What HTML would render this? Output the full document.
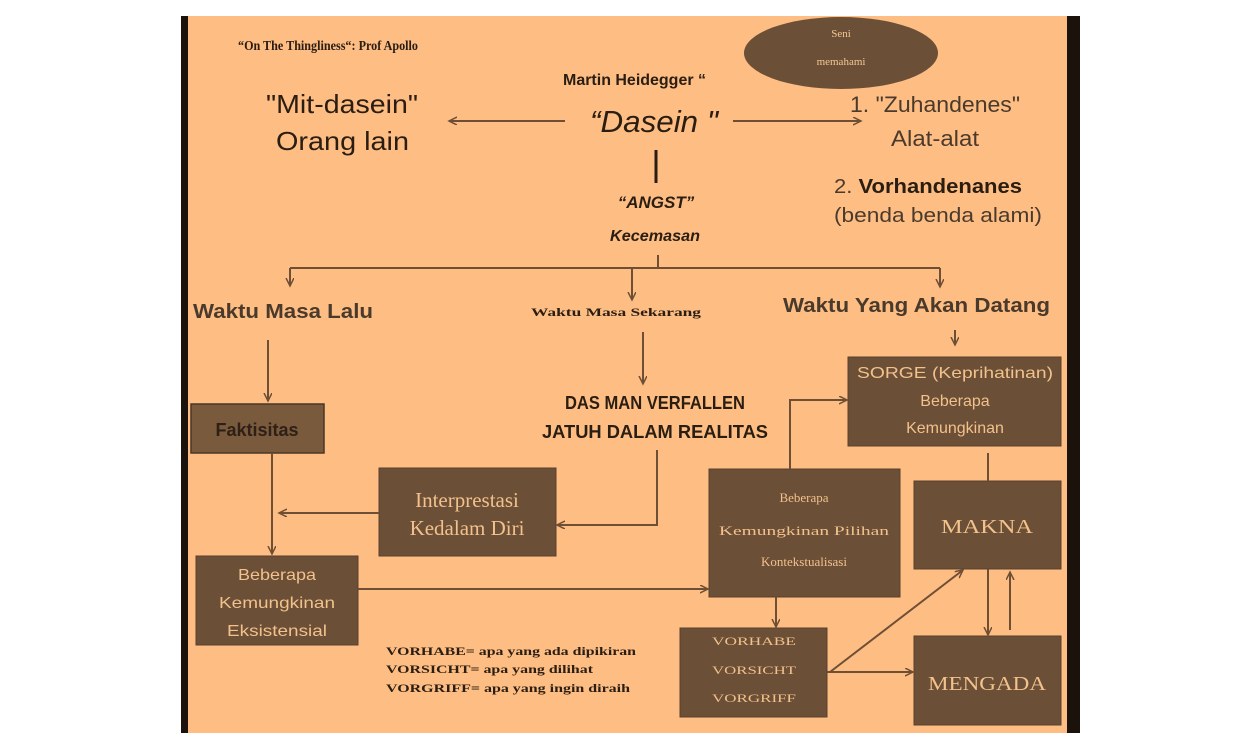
<!DOCTYPE html>
<html><head><meta charset="utf-8"><style>
html,body{margin:0;padding:0;background:#fff;width:1234px;height:748px;overflow:hidden}
svg{display:block}
.s{font-family:"Liberation Sans",sans-serif}
.r{font-family:"Liberation Serif",serif}
</style></head><body>
<svg width="1234" height="748" viewBox="0 0 1234 748" xmlns="http://www.w3.org/2000/svg">
<defs>
<marker id="a" markerWidth="10" markerHeight="10" refX="8" refY="4" orient="auto" markerUnits="userSpaceOnUse">
<path d="M0,0 L8,4 L0,8" fill="none" stroke="#6e4f35" stroke-width="1.5"/>
</marker>
</defs>
<rect x="181" y="16" width="899" height="717" fill="#fdbd83"/>
<rect x="181" y="16" width="7" height="717" fill="#1a120b"/>
<rect x="1067" y="16" width="13" height="717" fill="#1a120b"/>

<ellipse cx="841" cy="53" rx="97" ry="36" fill="#6b4f37"/>
<text class="r" x="841" y="37" font-size="11" fill="#f3c794" text-anchor="middle">Seni</text>
<text class="r" x="841" y="65" font-size="11" fill="#f3c794" text-anchor="middle">memahami</text>

<g fill="#2a1d12">
<text class="r" x="238" y="50" font-size="14" font-weight="bold" textLength="180" lengthAdjust="spacingAndGlyphs">“On The Thingliness“: Prof Apollo</text>
<text class="s" x="563" y="85" font-size="16" font-weight="bold" textLength="143" lengthAdjust="spacingAndGlyphs">Martin Heidegger “</text>
<text class="s" x="266" y="113" font-size="26" textLength="152" lengthAdjust="spacingAndGlyphs">"Mit-dasein"</text>
<text class="s" x="276" y="150" font-size="26" textLength="133" lengthAdjust="spacingAndGlyphs">Orang lain</text>
<text class="s" x="590" y="132" font-size="31" font-style="italic" textLength="128" lengthAdjust="spacingAndGlyphs">“Dasein "</text>
<text class="s" x="656" y="208" font-size="17" font-weight="bold" font-style="italic" text-anchor="middle">“ANGST”</text>
<text class="s" x="655" y="241" font-size="16" font-weight="bold" font-style="italic" text-anchor="middle" textLength="90" lengthAdjust="spacingAndGlyphs">Kecemasan</text>
</g>
<g fill="#4a3a2c">
<text class="s" x="850" y="112" font-size="22" textLength="170" lengthAdjust="spacingAndGlyphs">1. "Zuhandenes"</text>
<text class="s" x="891" y="146" font-size="22" textLength="88" lengthAdjust="spacingAndGlyphs">Alat-alat</text>
<text class="s" x="834" y="193" font-size="20" textLength="188" lengthAdjust="spacingAndGlyphs">2. <tspan font-weight="bold" fill="#2a1d12">Vorhandenanes</tspan></text>
<text class="s" x="834" y="222" font-size="20" textLength="208" lengthAdjust="spacingAndGlyphs">(benda benda alami)</text>
</g>
<g fill="#2a1d12">
<text class="s" x="193" y="318" font-size="20" font-weight="bold" fill="#4a3a2c" textLength="180" lengthAdjust="spacingAndGlyphs">Waktu Masa Lalu</text>
<text class="r" x="531" y="316" font-size="12" font-weight="bold" textLength="170" lengthAdjust="spacingAndGlyphs">Waktu Masa Sekarang</text>
<text class="s" x="783" y="312" font-size="20" font-weight="bold" fill="#4a3a2c" textLength="267" lengthAdjust="spacingAndGlyphs">Waktu Yang  Akan Datang</text>
<text class="s" x="655" y="409" font-size="18" font-weight="bold" text-anchor="middle" textLength="180" lengthAdjust="spacingAndGlyphs">DAS MAN VERFALLEN</text>
<text class="s" x="655" y="438" font-size="18" font-weight="bold" text-anchor="middle" textLength="226" lengthAdjust="spacingAndGlyphs">JATUH DALAM REALITAS</text>
<text class="r" x="386" y="655" font-size="12" font-weight="bold" textLength="250" lengthAdjust="spacingAndGlyphs">VORHABE= apa yang ada dipikiran</text>
<text class="r" x="386" y="673" font-size="12" font-weight="bold" textLength="207" lengthAdjust="spacingAndGlyphs">VORSICHT= apa yang dilihat</text>
<text class="r" x="386" y="692" font-size="12" font-weight="bold" textLength="244" lengthAdjust="spacingAndGlyphs">VORGRIFF= apa yang  ingin diraih</text>
</g>

<!-- boxes -->
<rect x="191" y="404" width="133" height="49" fill="#7a5a3d" stroke="#4a3626" stroke-width="1.5"/>
<text class="s" x="257" y="436" font-size="18" font-weight="bold" fill="#2e2016" text-anchor="middle">Faktisitas</text>

<g fill="#6b4f37" stroke="#5a412d" stroke-width="1">
<rect x="379" y="468" width="177" height="88"/>
<rect x="196" y="556" width="162" height="89"/>
<rect x="709" y="469" width="191" height="128"/>
<rect x="848" y="357" width="213" height="89"/>
<rect x="914" y="481" width="147" height="88"/>
<rect x="680" y="628" width="147" height="89"/>
<rect x="914" y="636" width="147" height="89"/>
</g>
<g fill="#f2c18c" text-anchor="middle">
<text class="r" x="467" y="507" font-size="21">Interprestasi</text>
<text class="r" x="467" y="535" font-size="21">Kedalam Diri</text>
<text class="s" x="277" y="580" font-size="16" textLength="78" lengthAdjust="spacingAndGlyphs">Beberapa</text>
<text class="s" x="277" y="608" font-size="16" textLength="116" lengthAdjust="spacingAndGlyphs">Kemungkinan</text>
<text class="s" x="277" y="636" font-size="16" textLength="100" lengthAdjust="spacingAndGlyphs">Eksistensial</text>
<text class="r" x="804" y="502" font-size="13">Beberapa</text>
<text class="r" x="804" y="535" font-size="13" textLength="170" lengthAdjust="spacingAndGlyphs">Kemungkinan Pilihan</text>
<text class="r" x="804" y="566" font-size="13">Kontekstualisasi</text>
<text class="s" x="955" y="378" font-size="16" textLength="196" lengthAdjust="spacingAndGlyphs">SORGE (Keprihatinan)</text>
<text class="s" x="955" y="406" font-size="16">Beberapa</text>
<text class="s" x="955" y="433" font-size="16">Kemungkinan</text>
<text class="r" x="987" y="533" font-size="20" textLength="92" lengthAdjust="spacingAndGlyphs">MAKNA</text>
<text class="r" x="754" y="645" font-size="12" textLength="84" lengthAdjust="spacingAndGlyphs">VORHABE</text>
<text class="r" x="754" y="674" font-size="12" textLength="84" lengthAdjust="spacingAndGlyphs">VORSICHT</text>
<text class="r" x="754" y="702" font-size="12" textLength="84" lengthAdjust="spacingAndGlyphs">VORGRIFF</text>
<text class="r" x="987" y="690" font-size="20" textLength="118" lengthAdjust="spacingAndGlyphs">MENGADA</text>
</g>

<!-- connectors -->
<g stroke="#6e4f35" stroke-width="2" fill="none">
<line x1="565" y1="121" x2="449" y2="121" marker-end="url(#a)"/>
<line x1="733" y1="121" x2="861" y2="121" marker-end="url(#a)"/>
<line x1="656" y1="150" x2="656" y2="183" stroke="#2a1d12" stroke-width="3"/>
<line x1="658" y1="255" x2="658" y2="268"/>
<line x1="290" y1="268" x2="940" y2="268"/>
<line x1="290" y1="268" x2="290" y2="286" marker-end="url(#a)"/>
<line x1="632" y1="268" x2="632" y2="300" marker-end="url(#a)"/>
<line x1="940" y1="268" x2="940" y2="287" marker-end="url(#a)"/>
<line x1="955" y1="330" x2="955" y2="345" marker-end="url(#a)"/>
<line x1="268" y1="340" x2="268" y2="401" marker-end="url(#a)"/>
<line x1="643" y1="332" x2="643" y2="384" marker-end="url(#a)"/>
<polyline points="657,450 657,525 557,525" marker-end="url(#a)"/>
<line x1="379" y1="513" x2="279" y2="513" marker-end="url(#a)"/>
<line x1="272" y1="453" x2="272" y2="554" marker-end="url(#a)"/>
<line x1="358" y1="589" x2="708" y2="589" marker-end="url(#a)"/>
<polyline points="790,469 790,400 847,400" marker-end="url(#a)"/>
<line x1="988" y1="453" x2="988" y2="481"/>
<line x1="776" y1="597" x2="776" y2="627" marker-end="url(#a)"/>
<line x1="830" y1="672" x2="963" y2="570" marker-end="url(#a)"/>
<line x1="827" y1="672" x2="913" y2="672" marker-end="url(#a)"/>
<line x1="988" y1="569" x2="988" y2="635" marker-end="url(#a)"/>
<line x1="1010" y1="630" x2="1010" y2="572" marker-end="url(#a)"/>
</g>
</svg>
</body></html>
